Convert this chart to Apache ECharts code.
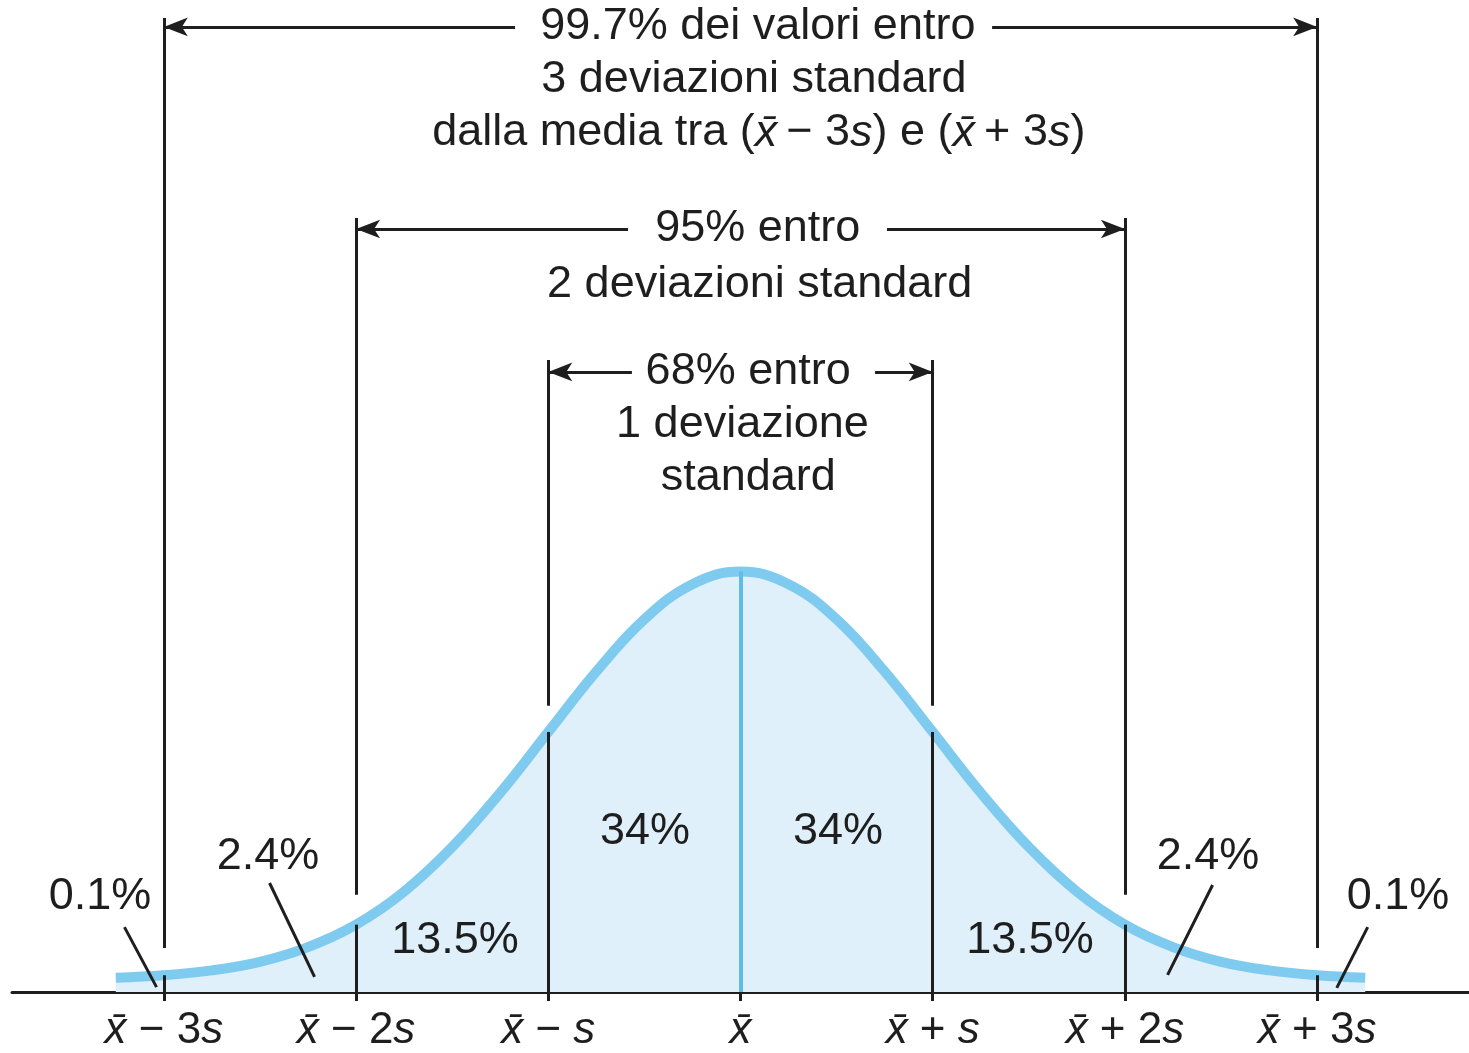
<!DOCTYPE html>
<html>
<head>
<meta charset="utf-8">
<script src="https://cdn.jsdelivr.net/npm/echarts@6/dist/echarts.min.js"></script>
<style>
html,body{margin:0;padding:0;background:#fff;}
#chart{width:1469px;height:1053px;}
</style>
</head>
<body>
<div id="chart"></div>
<script>
// ---- data (x in units of s from the mean, y relative to peak height) ----
const curveX = [-3.25,-3.0,-2.75,-2.5,-2.25,-2.0,-1.75,-1.5,-1.25,-1.0,-0.75,-0.5,-0.25,0,0.25,0.5,0.75,1.0,1.25,1.5,1.75,2.0,2.25,2.5,2.75,3.0,3.25];
const curveY = [0.005,0.011,0.023,0.044,0.080,0.135,0.216,0.325,0.458,0.607,0.755,0.883,0.969,1.0,0.969,0.883,0.755,0.607,0.458,0.325,0.216,0.135,0.080,0.044,0.023,0.011,0.005];

const tickValues = [-3,-2,-1,0,1,2,3];
const tickLabels = ['x\u0304 \u2212 3s','x\u0304 \u2212 2s','x\u0304 \u2212 s','x\u0304','x\u0304 + s','x\u0304 + 2s','x\u0304 + 3s'];

// vertical guide lines: position, curve height there, where the upper part starts, where it ends
const guideX      = [-3, -2, -1, 1, 2, 3];
const guideCurve  = [0.011, 0.135, 0.607, 0.607, 0.135, 0.011];
const guideGapTop = [0.078, 0.208, 0.671, 0.671, 0.208, 0.078];
const guideTop    = [2.356, 1.866, 1.518, 1.518, 1.866, 2.356];

// range arrows: level, left span end, right span start, half-width in s
const arrowY     = [2.334, 1.839, 1.489];
const arrowInner = [[-1.173, 1.309], [-0.585, 0.762], [-0.565, 0.700]];
const arrowOuter = [3, 2, 1];

// leader lines for small tail percentages
const leaders = [
  [[-2.45, 0.237], [-2.216, 0.007]],
  [[-3.205, 0.129], [-3.038, -0.018]],
  [[2.456, 0.232], [2.222, 0.012]],
  [[3.263, 0.129], [3.102, -0.020]]
];

// text annotations
const annText = [
  '99.7% dei valori entro',
  '3 deviazioni standard',
  'dalla media tra ({i|x\u0304}\u2009\u2212 3{i|s}) e ({i|x\u0304}\u2009+ 3{i|s})',
  '95% entro',
  '2 deviazioni standard',
  '68% entro',
  '1 deviazione',
  'standard',
  '34%','34%',
  '13.5%','13.5%',
  '2.4%','2.4%',
  '0.1%','0.1%'
];
const annX = [0.09, 0.07, 0.095, 0.09, 0.10, 0.04, 0.01, 0.04, -0.497, 0.507, -1.485, 1.506, -2.458, 2.432, -3.332, 3.421];
const annY = [2.334, 2.204, 2.074, 1.839, 1.704, 1.489, 1.359, 1.229, 0.362, 0.362, 0.097, 0.097, 0.301, 0.301, 0.203, 0.203];

// ---- build ----
const FONT = '"Liberation Sans", Arial, Helvetica, sans-serif';
const INK = '#1e1e1e';
const curveData = curveX.map((x, i) => [x, curveY[i]]);

const markData = [];
guideX.forEach((x, i) => {
  markData.push([{coord: [x, -0.03]}, {coord: [x, guideCurve[i]]}]);
  markData.push([{coord: [x, guideGapTop[i]]}, {coord: [x, guideTop[i]]}]);
});
arrowY.forEach((y, i) => {
  const o = arrowOuter[i];
  markData.push([{coord: [-o, y], symbol: 'arrow', symbolSize: [14, 24]}, {coord: [arrowInner[i][0], y], symbol: 'none'}]);
  markData.push([{coord: [arrowInner[i][1], y], symbol: 'none'}, {coord: [o, y], symbol: 'arrow', symbolSize: [14, 24]}]);
});
leaders.forEach(l => {
  markData.push([{coord: l[0]}, {coord: l[1]}]);
});

const annData = annText.map((t, i) => ({value: [annX[i], annY[i]], name: t}));

const chart = echarts.init(document.getElementById('chart'), null, {renderer: 'canvas'});
chart.setOption({
  animation: false,
  backgroundColor: '#ffffff',
  grid: {left: 12, right: 0, top: 0, bottom: 61, containLabel: false},
  xAxis: {
    type: 'value', min: -3.79, max: 3.79,
    splitLine: {show: false},
    axisLine: {onZero: false, lineStyle: {color: INK, width: 3}},
    axisTick: {show: true, customValues: tickValues, length: 9, lineStyle: {color: INK, width: 3}},
    axisLabel: {
      customValues: tickValues,
      margin: 17,
      color: INK, fontSize: 44, fontFamily: FONT,
      formatter: function (v) {
        const idx = tickValues.indexOf(Math.round(v));
        if (idx < 0) return '';
        return tickLabels[idx].replace('x\u0304', '{i|x\u0304}').replace(/s$/, '{i|s}');
      },
      rich: {i: {fontStyle: 'italic', fontSize: 44, fontFamily: FONT, color: INK}}
    }
  },
  yAxis: {type: 'value', min: -0.03, max: 2.4, show: false, splitLine: {show: false}},
  series: [
    {
      name: 'fill', type: 'line', data: curveData, smooth: 0.4, showSymbol: false, z: 1,
      lineStyle: {width: 0, opacity: 0},
      areaStyle: {color: '#dff0fb', opacity: 1, origin: 'start'}
    },
    {
      name: 'guides', type: 'line', data: curveData, smooth: 0.4, showSymbol: false, z: 2,
      lineStyle: {opacity: 0},
      markLine: {
        silent: true, symbol: 'none', animation: false,
        label: {show: false},
        lineStyle: {color: INK, width: 3, type: 'solid'},
        emphasis: {disabled: true},
        data: markData.concat([[
          {coord: [0, -0.03], lineStyle: {color: '#5fbce3', width: 4}},
          {coord: [0, 1.0]}
        ]])
      }
    },
    {
      name: 'curve', type: 'line', data: curveData, smooth: 0.4, showSymbol: false, z: 3,
      lineStyle: {color: '#7ecbef', width: 10, cap: 'butt'}
    },
    {
      name: 'text', type: 'scatter', data: annData, symbolSize: 0, z: 4, silent: true,
      itemStyle: {opacity: 1},
      label: {
        show: true, position: 'inside', align: 'center', verticalAlign: 'middle',
        color: INK, fontSize: 45, fontFamily: FONT, opacity: 1,
        formatter: p => p.name,
        rich: {i: {fontStyle: 'italic', fontSize: 45, fontFamily: FONT, color: INK}}
      }
    }
  ]
});
</script>
</body>
</html>
